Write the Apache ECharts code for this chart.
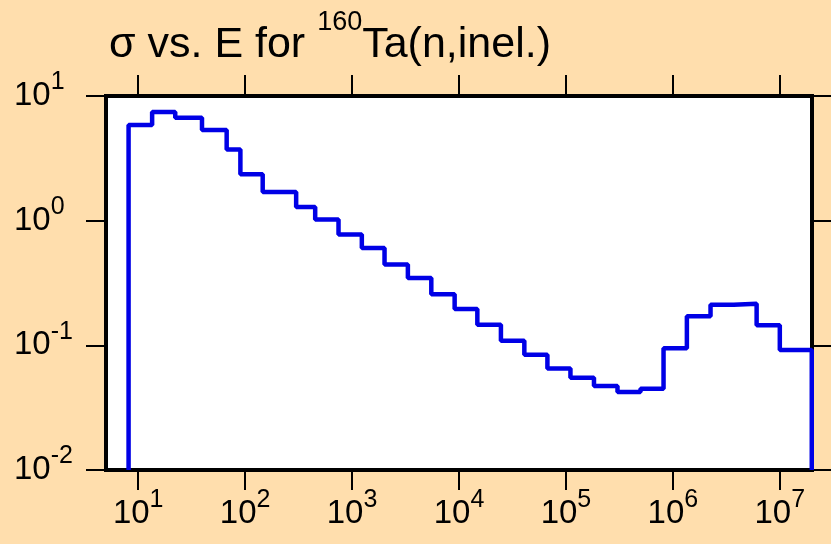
<!DOCTYPE html>
<html>
<head>
<meta charset="utf-8">
<script src="https://cdn.jsdelivr.net/npm/echarts@6/dist/echarts.min.js"></script>
<style>
  html, body { margin: 0; padding: 0; background: #FFDEAD; }
  #chart { width: 831px; height: 544px; }
</style>
</head>
<body>
<div id="chart"></div>
<script>
// group boundaries (eV)
const binEdges = [8.13, 13.5, 22.2, 39.5, 67.2, 90.3, 146, 300, 452, 747,
  1234, 2012, 3326, 5508, 9103, 14840, 24660, 40830, 67100, 110200,
  182900, 303500, 498000, 818000, 1.352e6, 2.25e6, 3.70e6, 6.07e6, 1.0e7, 1.99e7]
// cross section in each group (b)
const sigma = [5.85, 7.44, 6.70, 5.33, 3.73, 2.36, 1.70, 1.29, 1.02, 0.773,
  0.604, 0.445, 0.347, 0.257, 0.196, 0.146, 0.109, 0.0842, 0.0653, 0.0550,
  0.0471, 0.0422, 0.0449, 0.0946, 0.171, 0.212, 0.216, 0.145, 0.0917]
const xTicks = [1e1, 1e2, 1e3, 1e4, 1e5, 1e6, 1e7]
const yTicks = [1e-2, 1e-1, 1e0, 1e1]
const xRange = [5, 2e7]
const yRange = [1e-2, 10]

const font = "'Liberation Sans', Arial, Helvetica, sans-serif"

// histogram outline: up from the floor, one point per group, back down at the end
const stepData = [[binEdges[0], yRange[0]]]
sigma.forEach((v, i) => stepData.push([binEdges[i], v]))
stepData.push([binEdges[binEdges.length - 1], yRange[0]])

// superscript: tall line box for the base, top-aligned small box for the exponent
const powLabel = v => '{b|10}{s|' + Math.round(Math.log10(v)) + '}'
const labelRich = {
    b: { fontSize: 33, fontFamily: font, color: '#000', lineHeight: 52, verticalAlign: 'middle' },
    s: { fontSize: 25, fontFamily: font, color: '#000', lineHeight: 25, verticalAlign: 'top' }
}
const tickStyle = { color: '#000', width: 2 }

const chart = echarts.init(document.getElementById('chart'))
chart.setOption({
    backgroundColor: '#FFDEAD',
    animation: false,
    title: {
        text: '{m|σ vs. E for }{s|160}{m|Ta(n,inel.)}',
        left: 109,
        top: 24,
        padding: 0,
        textStyle: {
            rich: {
                m: { fontSize: 43, fontWeight: 'normal', fontFamily: font, color: '#000', lineHeight: 43, verticalAlign: 'bottom' },
                s: { fontSize: 27, fontWeight: 'normal', fontFamily: font, color: '#000', lineHeight: 27, verticalAlign: 'bottom', padding: [0, 0, 31, 0] }
            }
        }
    },
    grid: {
        left: 106, right: 19, top: 96, bottom: 74,
        show: true,
        backgroundColor: '#fff',
        borderColor: '#000',
        borderWidth: 4
    },
    xAxis: [{
        type: 'log', logBase: 10, min: xRange[0], max: xRange[1],
        position: 'bottom',
        axisLine: { show: false },
        splitLine: { show: false },
        axisTick: { show: true, length: 20, lineStyle: tickStyle, customValues: xTicks },
        axisLabel: { margin: 18, customValues: xTicks, formatter: powLabel, rich: labelRich }
    }, {
        type: 'log', logBase: 10, min: xRange[0], max: xRange[1],
        position: 'top',
        axisLine: { show: false },
        splitLine: { show: false },
        axisTick: { show: true, length: 21, lineStyle: tickStyle, customValues: xTicks },
        axisLabel: { show: false }
    }],
    yAxis: [{
        type: 'log', logBase: 10, min: yRange[0], max: yRange[1],
        position: 'left',
        axisLine: { show: false },
        splitLine: { show: false },
        axisTick: { show: true, length: 20, lineStyle: tickStyle, customValues: yTicks },
        axisLabel: { margin: 92, align: 'left', customValues: yTicks, formatter: powLabel, rich: labelRich }
    }, {
        type: 'log', logBase: 10, min: yRange[0], max: yRange[1],
        position: 'right',
        axisLine: { show: false },
        splitLine: { show: false },
        axisTick: { show: true, length: 20, lineStyle: tickStyle, customValues: yTicks },
        axisLabel: { show: false }
    }],
    series: [{
        type: 'line',
        step: 'end',
        data: stepData,
        showSymbol: false,
        lineStyle: { color: '#0000e6', width: 4.5 },
        z: 1
    }]
})
</script>
</body>
</html>
